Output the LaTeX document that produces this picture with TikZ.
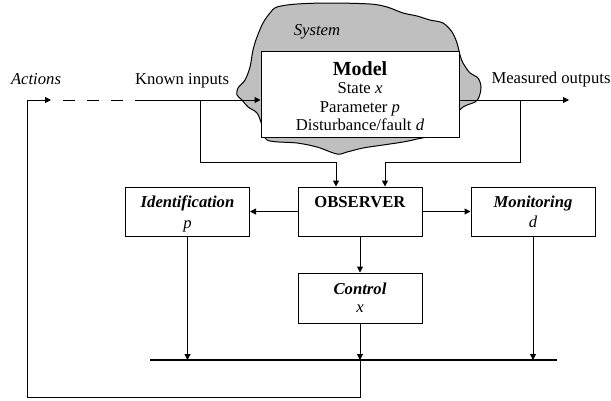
\documentclass[tikz,border=0pt]{standalone}
\usepackage{fontspec}
\setmainfont{Liberation Serif}
\usetikzlibrary{arrows.meta}
\begin{document}
\begin{tikzpicture}[x=0.6pt,y=-0.6pt,
  ln/.style={line width=0.6pt},
  arr/.style={ln,-{Triangle[length=3.6pt,width=3.6pt]}},
  box/.style={draw,ln,inner sep=0pt,minimum width=74.4pt,minimum height=29.4pt},
  txt/.style={inner sep=0pt,anchor=base,font=\fontsize{10}{12}\selectfont},
  bus/.style={line width=1.3pt}]
\useasboundingbox (0,0) rectangle (611,400);
% system blob
\draw[ln,fill=gray!50] plot[smooth cycle,tension=0.55] coordinates {
 (277,7) (297,4) (330,3) (370,4) (387,7) (403,13) (417,16) (430,20) (443,23)
 (452,32) (457,43) (460,55) (463,63) (470,73) (478,78) (481,87) (479,97)
 (475,102) (463,107) (452,118) (435,134) (417,139) (403,142) (383,145)
 (363,148) (347,152) (337,154) (317,147) (297,143) (267,140) (262,125)
 (257,113) (248,107) (242,100) (237,95) (238,88) (245,80) (250,67)
 (253,50) (257,37) (263,23) (270,13)};
% boxes
\node[box,fill=white,minimum width=118.8pt,minimum height=51.6pt] (model) at (360,94) {};
\node[box] (idn) at (187.5,211.5) {};
\node[box] (obs) at (360,211.5) {};
\node[box] (mon) at (533,211.5) {};
\node[box,minimum height=30pt] (ctl) at (360,298) {};
% texts
\node[txt] (tsys) at (317,35) {\textit{System}};
\node[txt,font=\fontsize{12}{14}\selectfont\bfseries] (tmodel) at (360,75) {Model};
\node[txt] (tstate) at (360,93) {State \textit{x}};
\node[txt] (tpar) at (360,112) {Parameter \textit{p}};
\node[txt] (tdist) at (360,130) {Disturbance/fault \textit{d}};
\node[txt] (tact) at (36,84) {\textit{Actions}};
\node[txt] (tkin) at (182,84) {Known inputs};
\node[txt] (tmout) at (551,83) {Measured outputs};
\node[txt] (tidn) at (187.5,207) {\textbf{\textit{Identification}}};
\node[txt] (tidnp) at (187.5,228) {\textit{p}};
\node[txt] (tobs) at (360,207) {\textbf{OBSERVER}};
\node[txt] (tmon) at (533,207) {\textbf{\textit{Monitoring}}};
\node[txt] (tmond) at (533,227) {\textit{d}};
\node[txt] (tctl) at (360,294) {\textbf{\textit{Control}}};
\node[txt] (tctlx) at (360,312) {\textit{x}};
% coordinates
\coordinate (inJ) at (200,100);
\coordinate (outJ) at (520,100);
\coordinate (outEnd) at (569,100);
\coordinate (dashS) at (51,100);
\coordinate (dashE) at (137,100);
\coordinate (fbTL) at (27,100);
\coordinate (fbBL) at (27,397);
\coordinate (fbBR) at (360,397);
\coordinate (busL) at (150,360);
\coordinate (busR) at (557,360);
\coordinate (busC) at (360,360);
\coordinate (oi1) at (336,162);
\coordinate (oi2) at (385,162);
% connectors
\draw[arr] (dashE) -- (dashE -| model.west);
\draw[arr] (model.east |- outEnd) -- (outEnd);
\draw[arr] (inJ) |- (oi1) -- (oi1 |- obs.north);
\draw[arr] (outJ) |- (oi2) -- (oi2 |- obs.north);
\draw[arr] (obs.west) -- (idn.east);
\draw[arr] (obs.east) -- (mon.west);
\draw[arr] (obs.south) -- (ctl.north);
\draw[arr] (idn.south) -- (idn.south |- busC);
\draw[arr] (mon.south) -- (mon.south |- busC);
\draw[arr] (ctl.south) -- (busC);
\draw[bus] (busL) -- (busR);
\draw[arr] (busC) -- (fbBR) -- (fbBL) -- (fbTL) -- (dashS);
\draw[ln,dash pattern=on 7.2pt off 7.2pt,dash phase=7.2pt] (dashS) -- (dashE);
\end{tikzpicture}
\end{document}
